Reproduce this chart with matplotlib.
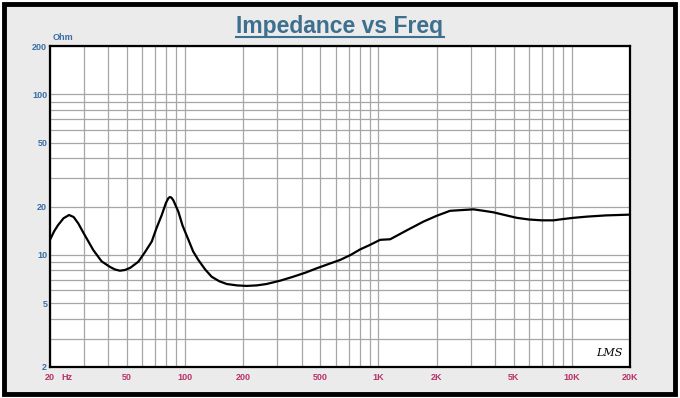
import matplotlib
matplotlib.use("Agg")
import matplotlib.pyplot as plt
from matplotlib.patches import Rectangle
from matplotlib.ticker import FixedLocator, NullFormatter

freq_hz = [20, 21.0, 22.0, 23.5, 25.1, 26.5, 28.0, 29.5, 31.0, 33.5, 37.0, 40.9, 43.4, 46.0, 48.9, 52.0,
           57.3, 62.0, 67.2, 71.0, 75.7, 79.5, 82.0, 83.5, 85.0, 87.0, 92.2, 97.0, 104, 110, 117, 127,
           137, 150, 164, 185, 208, 235, 264, 310, 363, 420, 479, 550, 633, 720, 803, 900, 1020, 1150,
           1400, 1708, 2000, 2345, 2700, 3100, 3500, 3930, 4500, 5190, 6000, 7000, 8030, 9000, 10190,
           12000, 15000, 20000]
impedance_ohm = [12.4, 14.0, 15.3, 16.9, 17.7, 17.2, 15.7, 14.0, 12.6, 10.7, 9.1, 8.4, 8.1, 7.96, 8.05, 8.3,
                 9.06, 10.4, 12.1, 14.6, 17.7, 21.0, 22.6, 22.9, 22.7, 21.8, 18.6, 15.2, 12.4, 10.5, 9.29,
                 8.1, 7.31, 6.85, 6.58, 6.45, 6.4, 6.45, 6.58, 6.9, 7.31, 7.75, 8.24, 8.75, 9.29, 10.0,
                 10.8, 11.5, 12.4, 12.5, 14.2, 16.1, 17.5, 18.8, 19.0, 19.2, 18.8, 18.4, 17.7, 17.0, 16.6,
                 16.4, 16.4, 16.7, 17.0, 17.3, 17.6, 17.8]

y_ticks = [2, 5, 10, 20, 50, 100, 200]
y_tick_labels = ["2", "5", "10", "20", "50", "100", "200"]
x_ticks = [20, 50, 100, 200, 500, 1000, 2000, 5000, 10000, 20000]
x_tick_labels = ["20", "50", "100", "200", "500", "1K", "2K", "5K", "10K", "20K"]

W, H = 680, 398
fig = plt.figure(figsize=(W / 100, H / 100), dpi=100)
fig.patch.set_facecolor("white")
bg = Rectangle((4 / W, 4 / H), 671 / W, 390 / H, transform=fig.transFigure,
               facecolor="#ebebeb", edgecolor="black", linewidth=3.5, zorder=-10)
fig.add_artist(bg)

ax = fig.add_axes([50 / W, (H - 367) / H, 580 / W, 321 / H])
ax.set_zorder(1)
ax.set_facecolor("white")
ax.set_xscale("log")
ax.set_yscale("log")
ax.set_xlim(20, 20000)
ax.set_ylim(2, 200)

grid_c = "#a6a6a6"
xminor = [m * 10 ** e for e in range(1, 5) for m in range(1, 10)]
yminor = [m * 10 ** e for e in range(0, 3) for m in range(1, 10)]
ax.xaxis.set_minor_locator(FixedLocator([v for v in xminor if 20 < v < 20000]))
ax.yaxis.set_minor_locator(FixedLocator([v for v in yminor if 2 < v < 200]))
ax.xaxis.set_minor_formatter(NullFormatter())
ax.yaxis.set_minor_formatter(NullFormatter())
ax.grid(which="both", color=grid_c, linewidth=0.9)
ax.tick_params(which="both", length=0)

ax.set_xticks(x_ticks)
ax.set_xticklabels(x_tick_labels, fontsize=6.5, fontweight="bold", color="#b8336a",
                   family="Liberation Sans")
ax.set_yticks(y_ticks)
ax.set_yticklabels(y_tick_labels, fontsize=6.5, fontweight="bold", color="#3a6ea5",
                   family="Liberation Sans")
ax.tick_params(axis="x", pad=4)
ax.tick_params(axis="y", pad=2)
ax.get_xticklabels()[0].set_x(20.6)

for s in ax.spines.values():
    s.set_color("black")
    s.set_linewidth(1.6)

ax.plot(freq_hz, impedance_ohm, color="black", linewidth=1.6, zorder=3)

fig.text(340 / W, 1 - 26 / H, "Impedance vs Freq", ha="center", va="center", fontsize=16.5,
         fontweight="bold", color="#3d6f8e", family="Liberation Sans")
fig.add_artist(plt.Line2D([236 / W, 444 / W], [1 - 37 / H, 1 - 37 / H], color="#3d6f8e",
                          linewidth=1.5, transform=fig.transFigure))
fig.text(53 / W, 1 - 38 / H, "Ohm", ha="left", va="center", fontsize=6.5, fontweight="bold",
         color="#3a6ea5", family="Liberation Sans")
fig.text(61 / W, 1 - 377 / H, "Hz", ha="left", va="center", fontsize=6.5, fontweight="bold",
         color="#b8336a", family="Liberation Sans")
fig.text(609 / W, 1 - 353 / H, "LMS", ha="center", va="center", fontsize=8, style="italic",
         color="black", family="DejaVu Serif", zorder=5)

fig.savefig("out.png", dpi=100, facecolor=fig.get_facecolor())
